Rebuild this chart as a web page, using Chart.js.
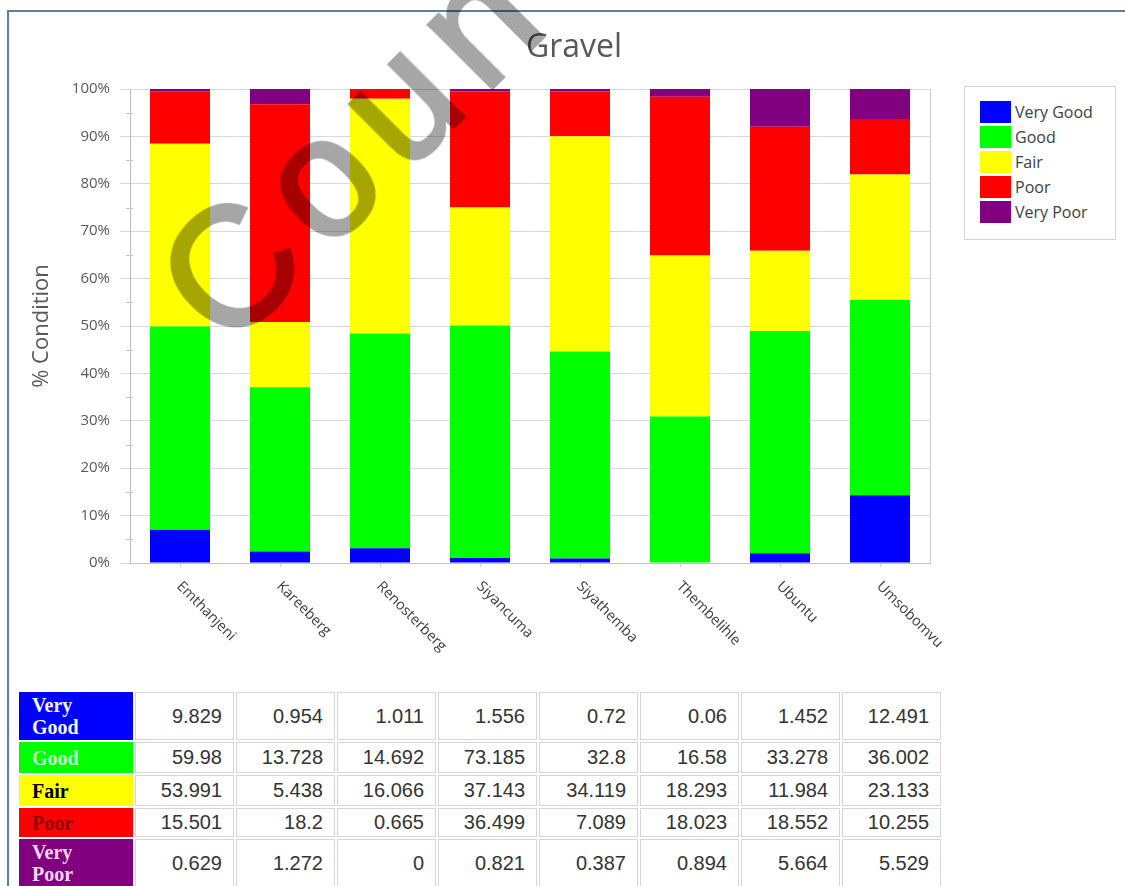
<!DOCTYPE html>
<html>
<head>
<meta charset="utf-8">
<script src="https://cdn.jsdelivr.net/npm/chart.js@4.4.1/dist/chart.umd.min.js"></script>
<style>
  html, body { margin: 0; padding: 0; background: #fff; width: 1125px; height: 886px; overflow: hidden; }
  #frame { position: absolute; left: 7px; top: 10px; width: 1300px; height: 1000px;
           border-left: 2px solid #5b7fa6; border-top: 2px solid #5b7fa6; }
  #chart { position: absolute; left: 0; top: 0; }
  #title { position: absolute; left: 474px; width: 200px; top: 29px; text-align: center;
           font: 32px/32px 'Open Sans', sans-serif; color: #595959; }
  #legend { position: absolute; left: 964px; top: 86px; width: 152px; height: 154px;
            border: 1px solid #d4d4d4; box-sizing: border-box; background: #fff; }
  .item { position: absolute; left: 15px; height: 22px; display: flex; align-items: center;
          font: 16px 'Open Sans', sans-serif; color: #404040; white-space: nowrap; }
  .sw { width: 31px; height: 22px; margin-right: 4px; }
  #tbl { position: absolute; left: 17px; top: 690px; border-collapse: separate; border-spacing: 2px;
         table-layout: fixed; width: 924px; }
  #tbl td { box-sizing: border-box; vertical-align: middle; }
  #tbl td.hd { padding: 0 0 0 13px; font: bold 20px/22px 'Liberation Serif', serif; }
  #tbl td.val { border: 1px solid #d6d6d6; text-align: right; padding: 0 11px 0 0;
                font: 20px 'Liberation Sans', Arial, sans-serif; color: #333; }
  #wm { position: absolute; left: 0; top: 0; pointer-events: none; }
  #wm text { letter-spacing: 18px; }
</style>
</head>
<body>
<div id="frame"></div>
<canvas id="chart" width="1125" height="690"></canvas>
<div id="title">Gravel</div>
<div id="legend"></div>
<table id="tbl">
  <colgroup><col style="width:114px"></colgroup>
  <tbody></tbody>
</table>
<svg id="wm" width="1125" height="886">
  <text x="228" y="352" transform="rotate(-45 228 352)" font-family="Liberation Sans" font-size="168"
        fill="#000" stroke="#000" stroke-width="4" opacity="0.35">Coun</text>
</svg>
<script>
// Gravel road length by condition per municipality
const categories = ['Emthanjeni', 'Kareeberg', 'Renosterberg', 'Siyancuma', 'Siyathemba', 'Thembelihle', 'Ubuntu', 'Umsobomvu'];
const conditionNames = ['Very Good', 'Good', 'Fair', 'Poor', 'Very Poor'];
const veryGood = [9.829, 0.954, 1.011, 1.556, 0.72, 0.06, 1.452, 12.491];
const good     = [59.98, 13.728, 14.692, 73.185, 32.8, 16.58, 33.278, 36.002];
const fair     = [53.991, 5.438, 16.066, 37.143, 34.119, 18.293, 11.984, 23.133];
const poor     = [15.501, 18.2, 0.665, 36.499, 7.089, 18.023, 18.552, 10.255];
const veryPoor = [0.629, 1.272, 0, 0.821, 0.387, 0.894, 5.664, 5.529];
const yTicks   = [0, 10, 20, 30, 40, 50, 60, 70, 80, 90, 100];

const series = [veryGood, good, fair, poor, veryPoor];
const fillColors = ['#0000ff', '#00ff00', '#ffff00', '#ff0000', '#800080'];
const headTextColors = ['#f4f4ff', '#c8f8c8', '#000000', '#8a0000', '#f6d8f6'];

// share of each municipality's total length, in percent
const totals = categories.map((_, i) => series.reduce((s, arr) => s + arr[i], 0));
const toPercent = arr => arr.map((v, i) => v / totals[i] * 100);

// legend
const legend = document.getElementById('legend');
conditionNames.forEach((name, k) => {
  const it = document.createElement('div');
  it.className = 'item';
  it.style.top = (14 + k * 25) + 'px';
  it.innerHTML = '<div class="sw" style="background:' + fillColors[k] + '"></div><span>' + name + '</span>';
  legend.appendChild(it);
});

// data table
const body = document.querySelector('#tbl tbody');
const colg = document.querySelector('#tbl colgroup');
categories.forEach(() => { const c = document.createElement('col'); c.style.width = '99px'; colg.appendChild(c); });
const rowHeights = [48, 31, 31, 29, 48];
conditionNames.forEach((name, k) => {
  const tr = document.createElement('tr');
  const th = document.createElement('td');
  th.className = 'hd';
  th.style.background = fillColors[k];
  th.style.color = headTextColors[k];
  th.style.height = rowHeights[k] + 'px';
  th.innerHTML = name.replace(' ', '<br>');
  tr.appendChild(th);
  series[k].forEach(v => {
    const td = document.createElement('td');
    td.className = 'val';
    td.style.height = rowHeights[k] + 'px';
    td.textContent = String(v);
    tr.appendChild(td);
  });
  body.appendChild(tr);
});

// rotated category labels, plot frame and minor ticks
const decorations = {
  id: 'decorations',
  afterDraw(chart) {
    const { ctx, chartArea, scales: { x, y } } = chart;
    ctx.save();
    ctx.strokeStyle = '#cfcfcf';
    ctx.lineWidth = 1;
    ctx.beginPath();
    ctx.moveTo(Math.round(chartArea.right) + 0.5, chartArea.top);
    ctx.lineTo(Math.round(chartArea.right) + 0.5, chartArea.bottom);
    ctx.stroke();
    ctx.strokeStyle = '#c4c4c4';
    for (let v = 5; v < 100; v += 10) {
      const py = Math.round(y.getPixelForValue(v)) + 0.5;
      ctx.beginPath();
      ctx.moveTo(chartArea.left - 4, py);
      ctx.lineTo(chartArea.left + 3, py);
      ctx.stroke();
    }
    ctx.fillStyle = '#404040';
    ctx.font = '14.5px "Open Sans"';
    ctx.textAlign = 'left';
    ctx.textBaseline = 'middle';
    categories.forEach((c, i) => {
      const px = x.getPixelForValue(i);
      ctx.save();
      ctx.translate(px - 1, chartArea.bottom + 21);
      ctx.rotate(Math.PI / 4);
      ctx.fillText(c, 0, 0);
      ctx.restore();
    });
    ctx.restore();
  }
};

new Chart(document.getElementById('chart'), {
  type: 'bar',
  data: {
    labels: categories,
    datasets: conditionNames.map((name, k) => ({
      label: name,
      data: toPercent(series[k]),
      backgroundColor: fillColors[k],
      borderWidth: 0,
      barPercentage: 0.6,
      categoryPercentage: 1.0
    }))
  },
  options: {
    responsive: false,
    animation: false,
    layout: { padding: { left: 20, top: 89, right: 195, bottom: 0 } },
    plugins: { legend: { display: false }, title: { display: false }, tooltip: { enabled: false } },
    scales: {
      x: {
        stacked: true,
        ticks: { display: false },
        grid: { display: true, drawOnChartArea: false, offset: false, tickLength: 4, color: '#d0d0d0' },
        border: { display: true, color: '#c4c4c4' },
        afterFit(scale) { scale.height = 127; }
      },
      y: {
        stacked: true,
        min: 0,
        max: 100,
        afterBuildTicks(scale) { scale.ticks = yTicks.map(v => ({ value: v })); },
        ticks: {
          padding: 10,
          color: '#595959',
          font: { family: 'Open Sans', size: 15 },
          callback: v => v + '%'
        },
        grid: { color: '#d9d9d9', tickLength: 10 },
        border: { color: '#bdbdbd' },
        title: {
          display: true,
          text: '% Condition',
          color: '#595959',
          font: { family: 'Open Sans', size: 22 },
          padding: { top: 9, bottom: 0 }
        },
        afterFit(scale) { scale.width = 110; }
      }
    }
  },
  plugins: [decorations]
});
</script>
</body>
</html>
